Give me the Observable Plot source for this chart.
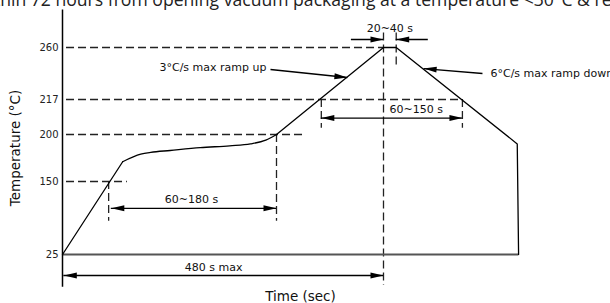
<!DOCTYPE html>
<html><head><meta charset="utf-8">
<script src="https://cdn.jsdelivr.net/npm/d3@7"></script>
<script src="https://cdn.jsdelivr.net/npm/@observablehq/plot@0.6"></script>
<style>
body{margin:0;background:#fff;}
#wrap{position:relative;width:610px;height:303px;overflow:hidden;}
#title{position:absolute;top:-12.7px;left:-26.8px;white-space:nowrap;font-family:"Open Sans";font-size:17.6px;color:#222;}
</style></head><body>
<div id="wrap"><div id="chart"></div><div id="title">Within 72 hours from opening vacuum packaging at a temperature &lt;30°C &amp; relative humidity &lt;60% RH</div></div>
<script>
// Y tick labels (schematic, non-linear axis)
const yTicks = [25, 150, 200, 217, 260];

// Reflow profile (time in s, temperature in °C)
const rampTime = [0, 90];
const rampTemp = [25, 171];
const soakTime = [90, 117, 132, 161, 206, 250, 281, 304, 320];
const soakTemp = [171, 179, 181, 183, 186, 188, 190, 194, 200];
const reflowTime = [320, 480, 499, 680, 682];
const reflowTemp = [200, 260, 260, 190, 25];
const baseTime = [0, 682];
const baseTemp = 25;

// Dashed horizontal guides
const hGuideTemp = [260, 217, 200, 150];
const hGuideFrom = [6, 6, 6, 6];
const hGuideTo = [480, 598, 359, 97];

// Dashed vertical guides
const vGuideTime = [69, 320, 387, 598, 480, 499];
const vGuideTop = [150, 200, 217, 217, 272, 272];
const vGuideBottom = [82, 82, 203, 203, -28, 245];

// Duration spans (double arrows)
const spanLabel = ["60~180 s", "60~150 s", "480 s max"];
const spanFrom = [73, 387, 2];
const spanTo = [320, 598, 480];
const spanTemp = [104, 208, -11];
const spanLabelTime = [193, 529, 226];

// Time above peak (inward arrows)
const peakLabel = "20~40 s";
const peakFrom = 480, peakTo = 499, peakTemp = 266.6;
const peakOuterFrom = 432, peakOuterTo = 547;

// Ramp notes with leaders
const noteText = ["3°C/s max ramp up", "6°C/s max ramp down"];
const noteTime = [311, 628];
const noteTemp = [241.8, 238.5];
const noteTipTime = [426, 540];
const noteTipTemp = [235.2, 242.6];

const idx = n => d3.range(n);
const head = {draw(ctx, l, r) { ctx.moveTo(0, -l); ctx.lineTo(r, 0); ctx.lineTo(-r, 0); ctx.closePath(); }};

const heads = [];
spanFrom.forEach((f, i) => {
  heads.push({x: f, y: spanTemp[i], r: -90});
  heads.push({x: spanTo[i], y: spanTemp[i], r: 90});
});
heads.push({x: peakFrom, y: peakTemp, r: 90});
heads.push({x: peakTo, y: peakTemp, r: -90});
const leaderRot = [95.9, -85.2];
noteTipTime.forEach((t, i) => heads.push({x: t, y: noteTipTemp[i], r: leaderRot[i]}));

const dash = {stroke: "#222", strokeWidth: 1.3, strokeDasharray: "8,4"};

const chart = Plot.plot({
  width: 610, height: 303,
  marginLeft: 62, marginRight: 0, marginTop: 0, marginBottom: 0,
  style: {fontFamily: "DejaVu Sans", fontSize: "11px", background: "#fff", color: "#000", overflow: "hidden"},
  x: {domain: [0, 480], range: [62, 383], axis: null},
  y: {type: "linear", domain: [25, 150, 200, 217, 260], range: [254, 181, 134, 99, 47], axis: null},
  marks: [
    Plot.ruleY(idx(hGuideTemp.length), {y: i => hGuideTemp[i], x1: i => hGuideFrom[i], x2: i => hGuideTo[i], ...dash}),
    Plot.ruleX(idx(vGuideTime.length), {x: i => vGuideTime[i], y1: i => vGuideTop[i], y2: i => vGuideBottom[i], ...dash}),
    Plot.ruleY([baseTemp], {x1: baseTime[0], x2: baseTime[1], stroke: "#555", strokeWidth: 2}),
    Plot.ruleX([0], {y1: -31, y2: 291, stroke: "#000", strokeWidth: 1.5}),
    Plot.line(idx(rampTime.length), {x: i => rampTime[i], y: i => rampTemp[i], stroke: "#000", strokeWidth: 1.3}),
    Plot.line(idx(soakTime.length), {x: i => soakTime[i], y: i => soakTemp[i], stroke: "#000", strokeWidth: 1.3, curve: "monotone-x"}),
    Plot.line(idx(reflowTime.length), {x: i => reflowTime[i], y: i => reflowTemp[i], stroke: "#000", strokeWidth: 1.3}),
    // spans
    Plot.ruleY(idx(spanLabel.length), {y: i => spanTemp[i], x1: i => spanFrom[i], x2: i => spanTo[i], stroke: "#000", strokeWidth: 1.3}),
    Plot.text(idx(spanLabel.length), {x: i => spanLabelTime[i], y: i => spanTemp[i], text: i => spanLabel[i], dy: -8.5, fill: "#111"}),
    // peak window
    Plot.ruleY([peakTemp], {x1: peakOuterFrom, x2: peakFrom, stroke: "#000", strokeWidth: 1.3}),
    Plot.ruleY([peakTemp], {x1: peakTo, x2: peakOuterTo, stroke: "#000", strokeWidth: 1.3}),
    Plot.text([peakLabel], {x: (peakFrom + peakTo) / 2, y: peakTemp, text: d => d, dy: -11.5, fill: "#111"}),
    // notes
    Plot.link(idx(noteText.length), {x1: i => noteTime[i], y1: i => noteTemp[i], x2: i => noteTipTime[i], y2: i => noteTipTemp[i], stroke: "#000", strokeWidth: 1.3}),
    Plot.text([0], {x: noteTime[0], y: noteTemp[0], text: () => noteText[0], textAnchor: "end", dx: -4, dy: -2, fill: "#111"}),
    Plot.text([1], {x: noteTime[1], y: noteTemp[1], text: () => noteText[1], textAnchor: "start", dx: 8, fill: "#111"}),
    // arrowheads
    Plot.vector(heads, {x: "x", y: "y", rotate: "r", length: 13, r: 3, anchor: "end", shape: head, fill: "#000", stroke: "none"}),
    // axis
    Plot.axisY(yTicks, {tickSize: 0, tickPadding: 4, fontSize: 10, label: null, color: "#222"}),
    Plot.text(["Temperature (°C)"], {frameAnchor: "left", textAnchor: "middle", dx: -47, dy: -4, rotate: -90, fontSize: 13.5, fill: "#111"}),
    Plot.text(["Time (sec)"], {frameAnchor: "bottom", dx: -36, dy: -3, fontSize: 13.5, fill: "#111"})
  ]
});
document.getElementById("chart").appendChild(chart);
</script>
</body></html>
